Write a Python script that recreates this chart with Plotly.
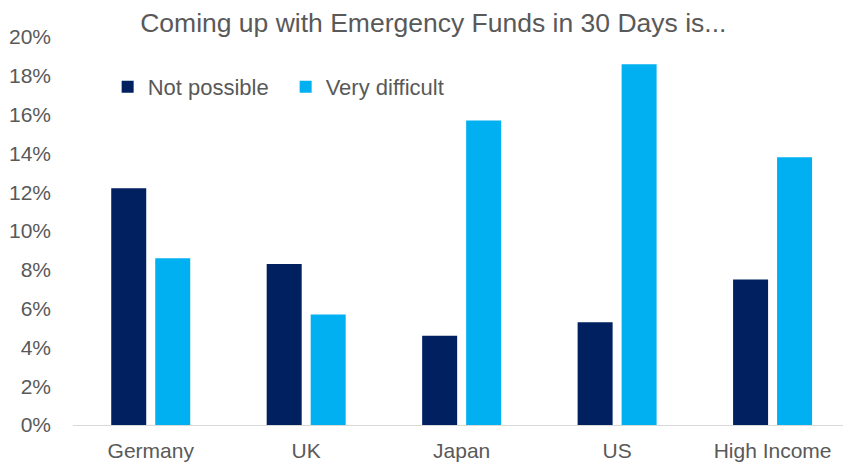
import plotly.graph_objects as go

# Share of respondents by country group
categories = ["Germany", "UK", "Japan", "US", "High Income"]
not_possible = [0.122, 0.083, 0.046, 0.053, 0.075]
very_difficult = [0.086, 0.057, 0.157, 0.186, 0.138]

y_ticks = [0, 0.02, 0.04, 0.06, 0.08, 0.10, 0.12, 0.14, 0.16, 0.18, 0.20]

NAVY = "#002060"
SKY = "#00B0F0"
TEXT = "#595959"
FONT = "Liberation Sans, Arial, sans-serif"

fig = go.Figure()
fig.add_trace(go.Bar(name="Not possible", x=categories, y=not_possible,
                     marker=dict(color=NAVY, line=dict(width=0))))
fig.add_trace(go.Bar(name="Very difficult", x=categories, y=very_difficult,
                     marker=dict(color=SKY, line=dict(width=0))))

fig.update_layout(
    width=843, height=463,
    margin=dict(l=73, r=0, t=37, b=38),
    paper_bgcolor="white", plot_bgcolor="white",
    font=dict(family=FONT, size=21, color=TEXT),
    barmode="group", bargap=0.434, bargroupgap=0.2045,
    title=dict(text="Coming up with Emergency Funds in 30 Days is...",
               x=0.514, xanchor="center", y=0.95, yanchor="middle",
               font=dict(size=26.5, color=TEXT)),
    legend=dict(orientation="h", x=0.045, xref="paper", y=0.871, yanchor="middle",
                xanchor="left", bgcolor="rgba(0,0,0,0)",
                entrywidth=133, entrywidthmode="pixels",
                font=dict(size=22, color=TEXT)),
    showlegend=True,
)
fig.update_xaxes(range=[-0.5, 4.453], showline=True, linecolor="#D9D9D9", linewidth=1,
                 showgrid=False, ticks="", ticklabelstandoff=7,
                 tickfont=dict(size=21, color=TEXT))
fig.update_yaxes(range=[0, 0.2], tickvals=y_ticks, tickformat=".0%", showgrid=False,
                 zeroline=False, showline=False, ticks="", ticklabelstandoff=21,
                 tickfont=dict(size=21, color=TEXT))

fig.write_html("out.html")
